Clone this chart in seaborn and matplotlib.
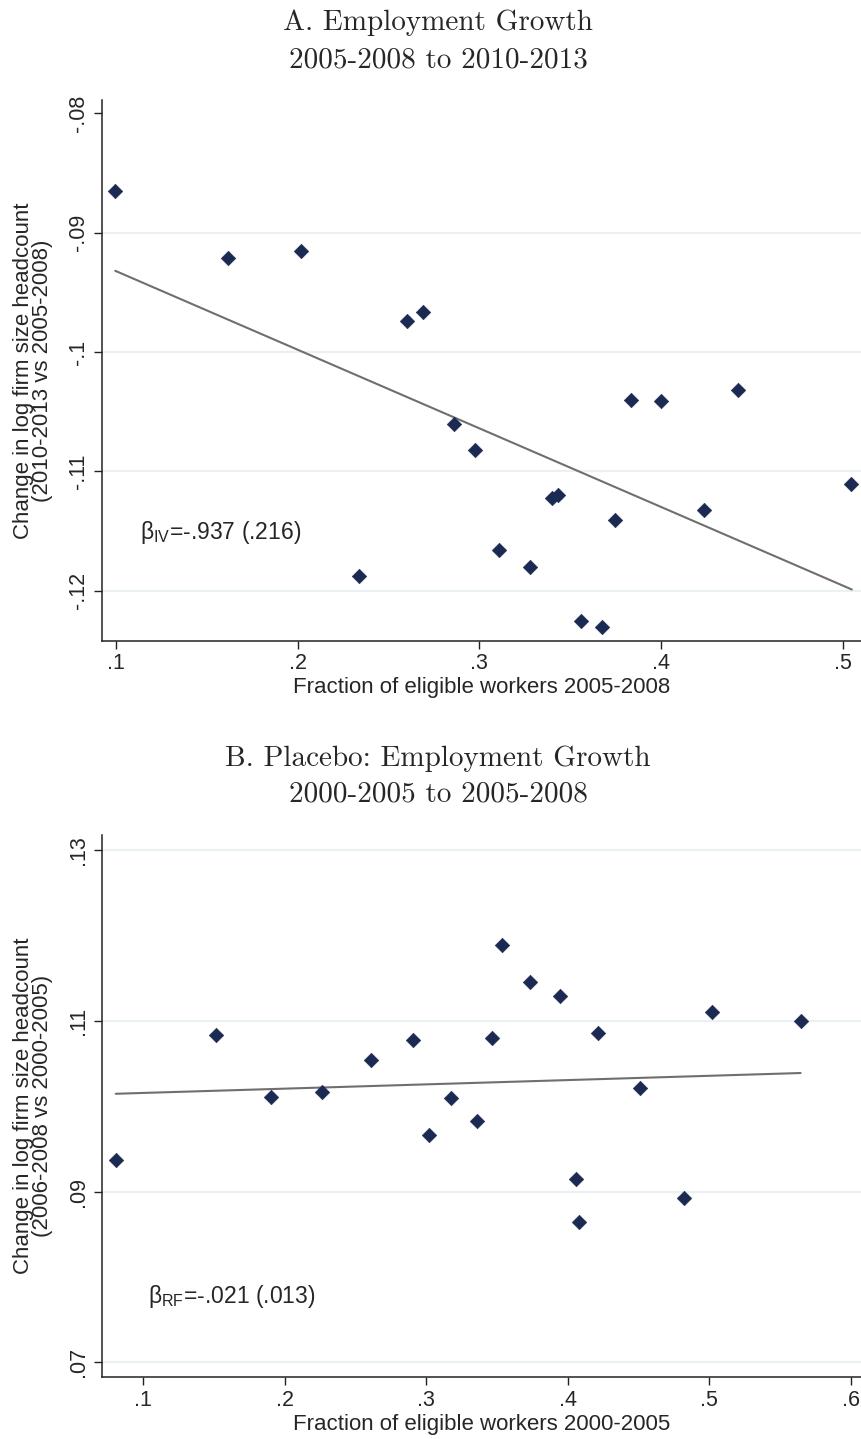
import numpy as np
import pandas as pd
import matplotlib
matplotlib.use('Agg')
import matplotlib.pyplot as plt
import seaborn as sns

# ---- data --------------------------------------------------------------
# Panel A: employment growth 2005-2008 -> 2010-2013
frac_a = [0.0996, 0.1616, 0.2016, 0.2603, 0.2688, 0.2339, 0.2859, 0.2978, 0.3835, 0.4000,
          0.4422, 0.5046, 0.3398, 0.3431, 0.3747, 0.4237, 0.3108, 0.3279, 0.3561, 0.3677]
growth_a = [-0.08654, -0.09215, -0.09157, -0.09741, -0.09666, -0.11877, -0.10603, -0.10818,
            -0.10401, -0.10407, -0.10321, -0.11106, -0.11223, -0.11195, -0.11405, -0.11327,
            -0.11659, -0.11799, -0.12254, -0.12302]
fit_a_x = [0.0996, 0.5050]
fit_a_y = [-0.0932, -0.1199]

# Panel B: placebo 2000-2005 -> 2005-2008
frac_b = [0.0805, 0.1514, 0.1902, 0.2265, 0.2612, 0.2905, 0.3016, 0.3172, 0.3360, 0.3466,
          0.3537, 0.3732, 0.3943, 0.4217, 0.4514, 0.5017, 0.5646, 0.4061, 0.4078, 0.4819]
growth_b = [0.09371, 0.10828, 0.10107, 0.10169, 0.10543, 0.10778, 0.09665, 0.10095, 0.09821,
            0.10793, 0.11886, 0.11453, 0.11296, 0.10851, 0.10212, 0.11102, 0.10996, 0.09145,
            0.08645, 0.08923]
fit_b_x = [0.0805, 0.5646]
fit_b_y = [0.10145, 0.10388]

xticks_a = [0.1, 0.2, 0.3, 0.4, 0.5]
xticklabels_a = ['.1', '.2', '.3', '.4', '.5']
yticks_a = [-0.12, -0.11, -0.10, -0.09, -0.08]
yticklabels_a = ['-.12', '-.11', '-.1', '-.09', '-.08']
grid_a = [-0.12, -0.11, -0.10, -0.09]

xticks_b = [0.1, 0.2, 0.3, 0.4, 0.5, 0.6]
xticklabels_b = ['.1', '.2', '.3', '.4', '.5', '.6']
yticks_b = [0.07, 0.09, 0.11, 0.13]
yticklabels_b = ['.07', '.09', '.11', '.13']
grid_b = [0.07, 0.09, 0.11, 0.13]

# ---- style ---------------------------------------------------------------
sns.set_style('white')
plt.rcParams['font.family'] = ['Liberation Sans', 'DejaVu Sans']
plt.rcParams['mathtext.default'] = 'regular'

NAVY = '#1b2a52'
LINE = '#6f6f6f'
GRID = '#eaf0f4'
TITLE_FONT = ['cmr10', 'DejaVu Serif']
W, H = 862, 1439

fig = plt.figure(figsize=(W / 100, H / 100), dpi=100)
fig.patch.set_facecolor('white')


def px_rect(left, top, right, bottom):
    return [left / W, 1 - bottom / H, (right - left) / W, (bottom - top) / H]


def draw_panel(ax, xs, ys, fx, fy, xlim, ylim, xt, xtl, yt, ytl, grid,
               xlabel, ylabel, note, note_xy):
    df = pd.DataFrame({'x': xs, 'y': ys})
    fit = pd.DataFrame({'x': fx, 'y': fy})
    for g in grid:
        ax.axhline(g, color=GRID, lw=1.6, zorder=0)
    sns.lineplot(data=fit, x='x', y='y', ax=ax, color=LINE, lw=1.5, zorder=2)
    sns.scatterplot(data=df, x='x', y='y', ax=ax, marker='D', s=55,
                    color=NAVY, edgecolor=NAVY, linewidth=0.4, zorder=3)
    ax.set_xlim(*xlim)
    ax.set_ylim(*ylim)
    ax.set_xticks(xt)
    ax.set_xticklabels(xtl)
    ax.set_yticks(yt)
    ax.set_yticklabels(ytl, rotation=90, va='center')
    ax.tick_params(axis='both', direction='out', length=6, width=1.0,
                   color='#222222', labelsize=15.5, pad=3)
    ax.tick_params(axis='x', bottom=True)
    ax.tick_params(axis='y', left=True)
    for side in ['top', 'right']:
        ax.spines[side].set_visible(False)
    for side in ['left', 'bottom']:
        ax.spines[side].set_color('#222222')
        ax.spines[side].set_linewidth(1.1)
    ax.set_xlabel(xlabel, fontsize=16, labelpad=2)
    ax.set_ylabel(ylabel, fontsize=16, linespacing=0.85)
    ax.yaxis.label.set_va('center')
    ax.yaxis.set_label_coords(-0.091, 0.5)
    ax.text(note_xy[0], note_xy[1], note, fontsize=16.5, ha='left', va='center')


ax1 = fig.add_axes(px_rect(102, 100, 862, 640.7))
draw_panel(ax1, frac_a, growth_a, fit_a_x, fit_a_y,
           (0.0923, 0.5106), (-0.12419, -0.07889),
           xticks_a, xticklabels_a, yticks_a, yticklabels_a, grid_a,
           'Fraction of eligible workers 2005-2008',
           'Change in log firm size headcount\n(2010-2013 vs 2005-2008)',
           'β$_{\\mathregular{IV}}$=-.937 (.216)', (0.1132, -0.11514))

ax2 = fig.add_axes(px_rect(102, 835, 862, 1377.3))
draw_panel(ax2, frac_b, growth_b, fit_b_x, fit_b_y,
           (0.0708, 0.608), (0.06824, 0.13176),
           xticks_b, xticklabels_b, yticks_b, yticklabels_b, grid_b,
           'Fraction of eligible workers 2000-2005',
           'Change in log firm size headcount\n(2006-2008 vs 2000-2005)',
           'β$_{\\mathregular{RF}}$=-.021 (.013)', (0.1035, 0.07768))

# titles
tx = 438 / W
fig.text(tx, 1 - 30 / H, 'A. Employment Growth', family=TITLE_FONT, fontsize=21,
         ha='center', va='baseline')
fig.text(tx, 1 - 67 / H, '2005-2008 to 2010-2013', family=TITLE_FONT, fontsize=21,
         ha='center', va='baseline')
fig.text(tx, 1 - 766 / H, 'B. Placebo: Employment Growth', family=TITLE_FONT, fontsize=21,
         ha='center', va='baseline')
fig.text(tx, 1 - 802 / H, '2000-2005 to 2005-2008', family=TITLE_FONT, fontsize=21,
         ha='center', va='baseline')

fig.savefig('out.png', dpi=100, facecolor='white')
